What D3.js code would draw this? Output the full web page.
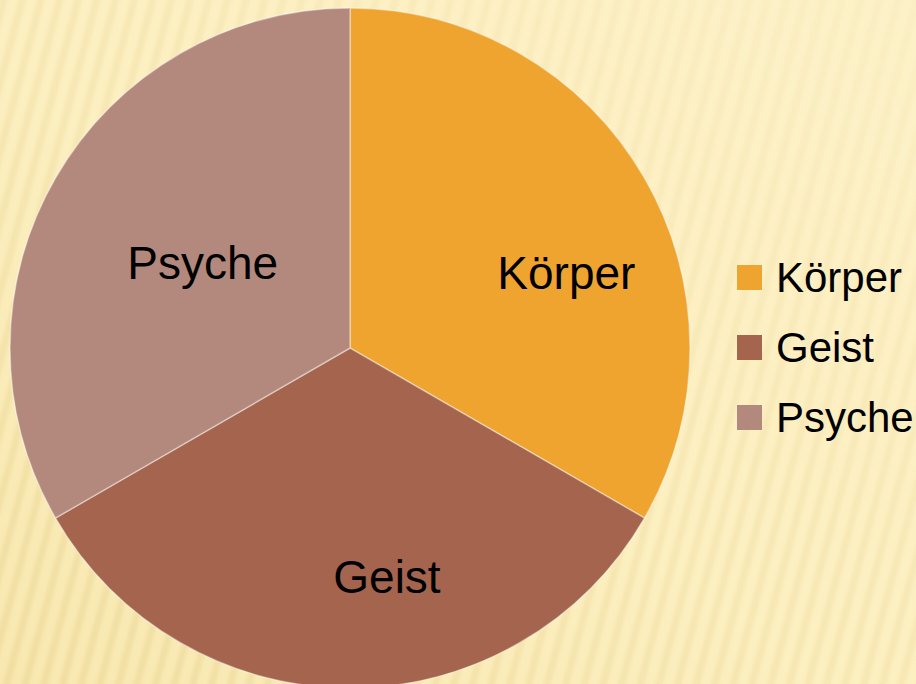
<!DOCTYPE html>
<html>
<head>
<meta charset="utf-8">
<script src="https://cdn.jsdelivr.net/npm/d3@7"></script>
<style>
  body { margin: 0; overflow: hidden; }
  svg { display: block; }
</style>
</head>
<body>
<div id="chart"></div>
<script>
// chart data
const categories = ["Körper", "Geist", "Psyche"];
const values = [1, 1, 1];
const colors = ["#efa430", "#a4644e", "#b3897d"];

const width = 916, height = 684;

const svg = d3.select("#chart").append("svg")
    .attr("width", width)
    .attr("height", height);

const defs = svg.append("defs");

// background gradient
let grad = defs.append("linearGradient")
    .attr("id", "bg")
    .attr("x1", "1").attr("y1", "0")
    .attr("x2", "0").attr("y2", "1");
grad.append("stop").attr("offset", "0%").attr("stop-color", "#fdf1c8");
grad.append("stop").attr("offset", "55%").attr("stop-color", "#fcefc0");
grad.append("stop").attr("offset", "100%").attr("stop-color", "#f8e8b0");

// soft diagonal stripes
let pat = defs.append("pattern")
    .attr("id", "stripes")
    .attr("patternUnits", "userSpaceOnUse")
    .attr("width", 18).attr("height", 18)
    .attr("patternTransform", "rotate(15)");
pat.append("rect")
    .attr("x", 0).attr("y", 0)
    .attr("width", 7).attr("height", 18)
    .attr("fill", "#e2c97f")
    .attr("opacity", 0.3);

defs.append("filter").attr("id", "soft")
    .append("feGaussianBlur").attr("stdDeviation", 1.6);

let fade = defs.append("linearGradient")
    .attr("id", "fade")
    .attr("x1", "1").attr("y1", "0")
    .attr("x2", "0").attr("y2", "1");
fade.append("stop").attr("offset", "0%").attr("stop-color", "#fff").attr("stop-opacity", 0.2);
fade.append("stop").attr("offset", "100%").attr("stop-color", "#fff").attr("stop-opacity", 1);
defs.append("mask").attr("id", "fadeMask")
    .append("rect").attr("width", width).attr("height", height).attr("fill", "url(#fade)");

svg.append("rect").attr("width", width).attr("height", height).attr("fill", "url(#bg)");
svg.append("g").attr("mask", "url(#fadeMask)")
    .append("rect")
    .attr("x", -10).attr("y", -10)
    .attr("width", width + 20).attr("height", height + 20)
    .attr("fill", "url(#stripes)")
    .attr("filter", "url(#soft)");

// pie
const cx = 350, cy = 348, radius = 340;

const pie = d3.pie().sort(null).value(d => d.value);
const arc = d3.arc().innerRadius(0).outerRadius(radius);

const data = categories.map((c, i) => ({name: c, value: values[i], color: colors[i]}));
const arcs = pie(data);

const g = svg.append("g").attr("transform", `translate(${cx},${cy})`);

g.selectAll(".slice")
    .data(arcs)
    .enter()
    .append("path")
    .attr("class", "slice")
    .attr("d", arc)
    .attr("fill", d => d.data.color)
    .attr("stroke", "rgba(255,255,255,0.4)")
    .attr("stroke-width", 1.5);

// label placement (best-fit style, like the office chart)
const labelPos = [
    {r: 229, da: 0.19},
    {r: 232, da: -0.16},
    {r: 170, da: 0.0}
];

g.selectAll(".label")
    .data(arcs)
    .enter()
    .append("text")
    .attr("class", "label")
    .attr("transform", (d, i) => {
        let a = (d.startAngle + d.endAngle) / 2 + labelPos[i].da;
        let r = labelPos[i].r;
        return `translate(${r * Math.sin(a)},${-r * Math.cos(a)})`;
    })
    .attr("text-anchor", "middle")
    .attr("dy", "0.35em")
    .style("font-family", "Liberation Sans, Arial, sans-serif")
    .style("font-size", "46px")
    .attr("fill", "#000")
    .text(d => d.data.name);

// legend
const legend = svg.append("g").attr("transform", "translate(737,265)");

let items = legend.selectAll(".item")
    .data(data)
    .enter()
    .append("g")
    .attr("class", "item")
    .attr("transform", (d, i) => `translate(0,${i * 70})`);

items.append("rect")
    .attr("width", 25)
    .attr("height", 25)
    .attr("fill", d => d.color);

items.append("text")
    .attr("x", 39)
    .attr("y", 12.5)
    .attr("dy", "0.35em")
    .style("font-family", "Liberation Sans, Arial, sans-serif")
    .style("font-size", "42px")
    .attr("fill", "#000")
    .text(d => d.name);
</script>
</body>
</html>
